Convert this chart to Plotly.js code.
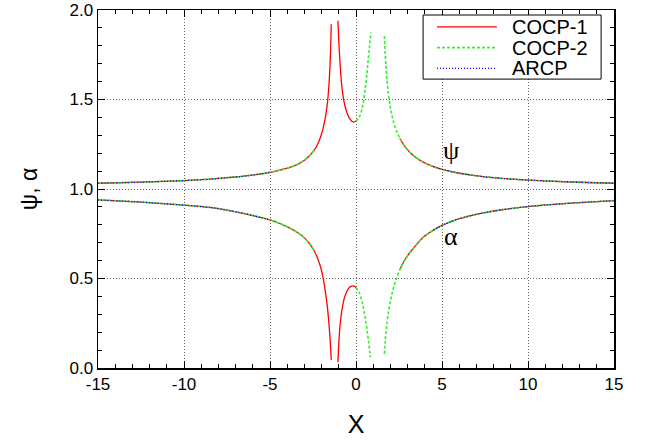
<!DOCTYPE html>
<html>
<head>
<meta charset="utf-8">
<script src="https://cdn.plot.ly/plotly-3.0.1.min.js"></script>
<style>html,body{margin:0;padding:0;background:#fff;}#chart{width:662px;height:443px;}</style>
</head>
<body>
<div id="chart"></div>
<script>
// ---- psi branch (upper curves) ----
const psiAX = [-15, -12.5, -10, -8.5, -7.5, -6.5, -5.5, -5, -4.4, -3.9, -3.4, -3.0, -2.7, -2.45, -2.25, -2.08, -1.95, -1.83, -1.73, -1.65, -1.58, -1.52, -1.47, -1.44];
const psiAY = [1.032, 1.038, 1.047, 1.055, 1.063, 1.072, 1.085, 1.093, 1.106, 1.119, 1.138, 1.161, 1.186, 1.214, 1.246, 1.285, 1.325, 1.375, 1.43, 1.49, 1.57, 1.67, 1.80, 1.92];
const psiBX = [-1.05, -1.01, -0.97, -0.92, -0.86, -0.79, -0.7, -0.6, -0.48, -0.35, -0.22, -0.12, 0];
const psiBY = [1.94, 1.85, 1.77, 1.69, 1.61, 1.545, 1.49, 1.45, 1.415, 1.39, 1.377, 1.374, 1.38];
const psiCX = [0, 0.12, 0.24, 0.35, 0.45, 0.54, 0.63, 0.71, 0.79, 0.87];
const psiCY = [1.38, 1.39, 1.412, 1.447, 1.497, 1.56, 1.64, 1.72, 1.80, 1.875];
const psiDX = [1.65, 1.69, 1.74, 1.8, 1.88, 1.97, 2.08, 2.2, 2.35, 2.55, 2.8, 3.1, 3.4, 3.9, 4.5, 5, 6, 6.75, 7.5, 8.5, 10, 12.5, 15];
const psiDY = [1.855, 1.77, 1.69, 1.61, 1.535, 1.47, 1.415, 1.368, 1.325, 1.283, 1.243, 1.208, 1.182, 1.150, 1.125, 1.110, 1.088, 1.077, 1.068, 1.059, 1.050, 1.039, 1.032];

// ---- alpha branch (lower curves) ----
const alpAX = [-15, -12.5, -10, -8.5, -7.5, -6.5, -5.5, -5, -4.4, -3.9, -3.4, -3.0, -2.7, -2.45, -2.25, -2.08, -1.95, -1.83, -1.73, -1.65, -1.58, -1.52, -1.47, -1.44];
const alpAY = [0.939, 0.927, 0.910, 0.897, 0.882, 0.863, 0.840, 0.827, 0.806, 0.784, 0.757, 0.727, 0.694, 0.658, 0.618, 0.571, 0.522, 0.458, 0.393, 0.33, 0.255, 0.18, 0.105, 0.045];
const alpBX = [-1.05, -1.02, -0.98, -0.93, -0.86, -0.78, -0.68, -0.56, -0.43, -0.3, -0.18, -0.08, 0];
const alpBY = [0.032, 0.10, 0.17, 0.235, 0.295, 0.345, 0.39, 0.422, 0.445, 0.456, 0.459, 0.456, 0.449];
const alpCX = [0, 0.1, 0.2, 0.3, 0.4, 0.5, 0.58, 0.66, 0.74, 0.8, 0.84];
const alpCY = [0.449, 0.437, 0.418, 0.39, 0.352, 0.303, 0.255, 0.2, 0.14, 0.09, 0.06];
const alpDX = [1.65, 1.69, 1.74, 1.8, 1.88, 1.97, 2.08, 2.2, 2.35, 2.55, 2.8, 3.1, 3.4, 3.9, 4.5, 5, 6, 6.75, 7.5, 8.5, 10, 12.5, 15];
const alpDY = [0.078, 0.14, 0.20, 0.255, 0.31, 0.36, 0.41, 0.455, 0.502, 0.55, 0.598, 0.641, 0.676, 0.730, 0.770, 0.797, 0.834, 0.853, 0.868, 0.884, 0.902, 0.921, 0.935];

// series names and the x-domains over which each series is drawn
const seriesNames = ['COCP-1', 'COCP-2', 'ARCP'];
const seriesColors = ['#ff0000', '#33ee33', '#0000ff'];
const seriesDash = ['solid', '3px,2px', '1px,2px'];
const seriesWidth = [1.3, 1.6, 1.2];
const cocp1Domains = [[-15, 0], [2.4, 15]];
const cocp2Domains = [[-15, -2.4], [0, 15]];
const arcpDomains = [[-15, -4.5], [4.5, 15]];

// tick labels
const xTickVals = [-15, -10, -5, 0, 5, 10, 15];
const xTickText = ['-15', '-10', '-5', '0', '5', '10', '15'];
const yTickVals = [0, 0.5, 1.0, 1.5, 2.0];
const yTickText = ['0.0', '0.5', '1.0', '1.5', '2.0'];

const segments = [[psiAX, psiAY], [psiBX, psiBY], [psiCX, psiCY], [psiDX, psiDY],
                  [alpAX, alpAY], [alpBX, alpBY], [alpCX, alpCY], [alpDX, alpDY]];

function build(domains) {
  const X = [], Y = [];
  segments.forEach(([xs, ys]) => {
    domains.forEach(([lo, hi]) => {
      let any = false;
      xs.forEach((v, i) => {
        if (v >= lo - 1e-9 && v <= hi + 1e-9) { X.push(v); Y.push(ys[i]); any = true; }
      });
      if (any) { X.push(null); Y.push(null); }
    });
  });
  return {X, Y};
}

const built = [build(cocp1Domains), build(cocp2Domains), build(arcpDomains)];

const traces = built.map((s, k) => ({
  x: s.X, y: s.Y, name: seriesNames[k], mode: 'lines', connectgaps: false, showlegend: false,
  line: {color: seriesColors[k], width: seriesWidth[k], dash: seriesDash[k], shape: 'spline', smoothing: 0.5}
}));

// legend drawn as a boxed key in paper coordinates
const legRows = [0.953, 0.895, 0.837];
const shapes = [{type: 'rect', xref: 'paper', yref: 'paper', x0: 0.630, x1: 0.975, y0: 0.807, y1: 0.986,
                 line: {color: '#000', width: 1}, fillcolor: '#fff', layer: 'above'}];
const legendText = [];
seriesNames.forEach((n, k) => {
  shapes.push({type: 'line', xref: 'paper', yref: 'paper', x0: 0.657, x1: 0.773, y0: legRows[k], y1: legRows[k],
               line: {color: seriesColors[k], width: seriesWidth[k], dash: seriesDash[k]}, layer: 'above'});
  legendText.push({xref: 'paper', yref: 'paper', x: 0.798, y: legRows[k], xanchor: 'left', yanchor: 'middle',
                   text: n, showarrow: false,
                   font: {family: 'Liberation Sans, Arial, sans-serif', size: 20, color: '#000'}});
});

const axFont = {family: 'Liberation Sans, Arial, sans-serif', size: 17, color: '#000'};
const layout = {
  width: 662, height: 443,
  margin: {l: 98, r: 48, t: 10, b: 75},
  paper_bgcolor: '#fff', plot_bgcolor: '#fff',
  showlegend: false,
  xaxis: {range: [-15, 15], tickmode: 'array', tickvals: xTickVals, ticktext: xTickText,
          ticks: 'inside', ticklen: 7, tickcolor: '#000',
          showline: true, linecolor: '#000', linewidth: 1.5, mirror: 'ticks',
          showgrid: true, gridcolor: '#666', griddash: '1px,2px', gridwidth: 1, zeroline: false,
          tickfont: axFont,
          minor: {dtick: 1, tick0: 0, ticks: 'inside', ticklen: 4, tickcolor: '#000', showgrid: false},
          title: {text: 'X', font: {family: 'Liberation Sans, Arial, sans-serif', size: 25, color: '#000'}, standoff: 22}},
  yaxis: {range: [0, 2], tickmode: 'array', tickvals: yTickVals, ticktext: yTickText,
          ticks: 'inside', ticklen: 7, tickcolor: '#000',
          showline: true, linecolor: '#000', linewidth: 1.5, mirror: 'ticks',
          showgrid: true, gridcolor: '#666', griddash: '1px,2px', gridwidth: 1, zeroline: false,
          tickfont: axFont,
          minor: {dtick: 0.1, tick0: 0, ticks: 'inside', ticklen: 4, tickcolor: '#000', showgrid: false},
          title: {text: 'ψ, α', font: {family: 'Liberation Sans, Arial, sans-serif', size: 23, color: '#000'}, standoff: 25}},
  shapes: shapes,
  annotations: [
    {x: 5.5, y: 1.215, xref: 'x', yref: 'y', text: 'ψ', showarrow: false,
     font: {family: 'Liberation Serif, serif', size: 26, color: '#000'}},
    {x: 5.5, y: 0.735, xref: 'x', yref: 'y', text: 'α', showarrow: false,
     font: {family: 'Liberation Serif, serif', size: 26, color: '#000'}}
  ].concat(legendText)
};

Plotly.newPlot('chart', traces, layout, {staticPlot: true, displayModeBar: false});
</script>
</body>
</html>
